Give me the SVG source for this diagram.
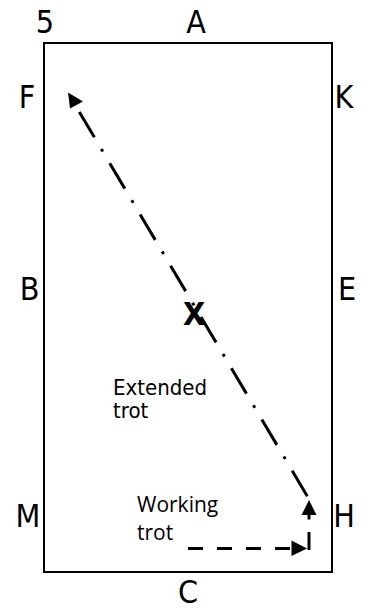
<svg xmlns="http://www.w3.org/2000/svg" width="373" height="610" viewBox="0 0 373 610">
<style>
.lbl{font-family:"DejaVu Sans Condensed","DejaVu Sans",sans-serif;font-stretch:condensed;font-size:32px;fill:#000;text-anchor:middle}
.note{font-family:"DejaVu Sans Condensed","DejaVu Sans",sans-serif;font-stretch:condensed;font-size:22px;fill:#000}
.note2{font-family:"Open Sans","DejaVu Sans",sans-serif;font-size:21px;fill:#000}
.head{fill:#000;stroke:none}
.ln{stroke:#000;stroke-width:3;fill:none;stroke-linecap:butt}
</style>
<rect id="arena" x="44" y="43" width="288" height="529" fill="#fff" stroke="#000" stroke-width="2"/>
<g id="labels">
<text class="lbl" x="45" y="33">5</text>
<text class="lbl" x="196" y="33">A</text>
<text class="lbl" x="27" y="108">F</text>
<text class="lbl" x="344" y="108">K</text>
<text class="lbl" x="29.5" y="300">B</text>
<text class="lbl" x="347" y="300">E</text>
<text class="lbl" x="28" y="527">M</text>
<text class="lbl" x="344" y="527">H</text>
<text class="lbl" x="188" y="603">C</text>
<text class="lbl" x="194" y="325" font-weight="bold">X</text>
</g>
<g id="extended-label">
<text class="note" x="113" y="395">Extended</text>
<text class="note" x="113" y="418">trot</text>
</g>
<g id="working-label">
<text class="note2" x="137" y="512">Working</text>
<text class="note2" x="137" y="540">trot</text>
</g>
<g id="connectors">
<line class="ln" x1="79.3" y1="111.9" x2="309" y2="499" stroke-dasharray="29.6 13.5 3 13.5"/>
<polygon class="head" points="68,92.5 83,101.5 70,108.5"/>
<line class="ln" x1="309" y1="514" x2="309" y2="519.5"/>
<polygon class="head" points="309,500 316.5,515 301.5,515"/>
<line class="ln" x1="188" y1="548.5" x2="290" y2="548.5" stroke-dasharray="15 14"/>
<polygon class="head" points="291.5,540.5 307,548.5 291.5,556"/>
<line class="ln" x1="309" y1="532" x2="309" y2="550"/>
</g>
</svg>
